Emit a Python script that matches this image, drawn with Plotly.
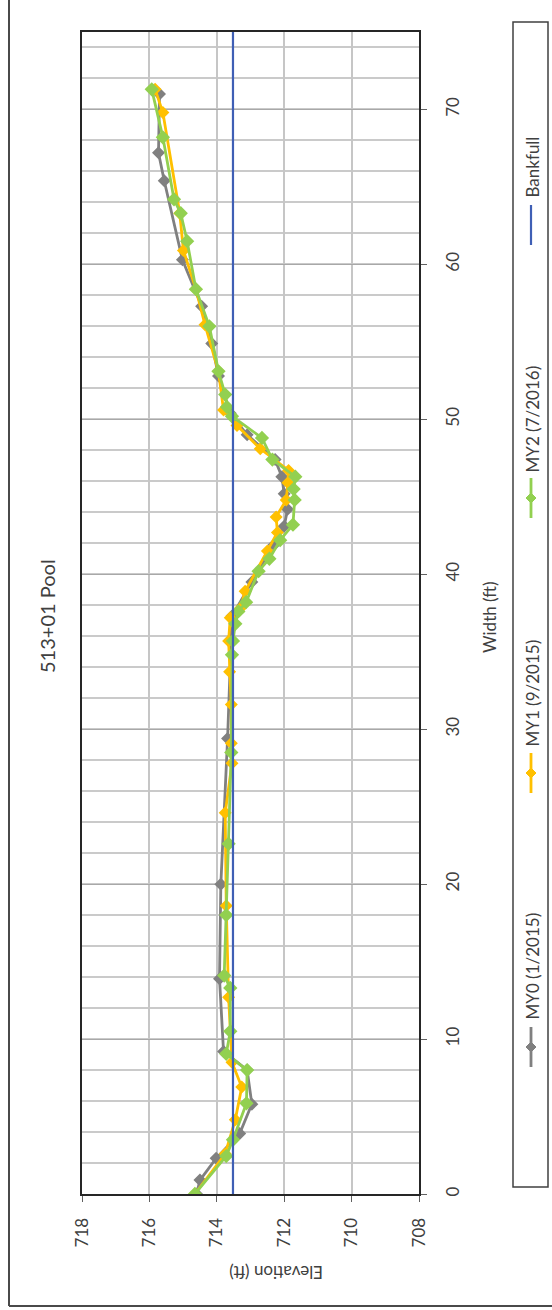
import plotly.graph_objects as go

# Cross-section survey, station 513+01 (pool). Width in ft, elevation in ft.
my0_width = [0.0, 0.9, 2.3, 3.9, 5.8, 8.0, 9.2, 13.9, 20.0, 29.4, 37.3, 39.5, 41.9,
             43.1, 44.2, 45.2, 46.3, 47.4, 49.0, 50.4, 52.8, 54.9, 57.3, 60.3,
             65.4, 67.2, 71.0]
my0_elev = [714.60, 714.50, 714.02, 713.32, 712.96, 713.10, 713.80, 713.92, 713.88,
            713.68, 713.55, 712.96, 712.30, 712.00, 711.90, 712.00, 712.07, 712.27,
            713.10, 713.60, 713.95, 714.15, 714.45, 715.02, 715.56, 715.73, 715.70]

my1_width = [0.0, 2.6, 4.8, 6.9, 8.5, 12.7, 18.6, 24.6, 27.8, 29.1, 31.6, 33.7,
             35.7, 37.2, 37.8, 38.9, 41.5, 42.7, 43.7, 44.8, 45.9, 46.7, 48.1,
             49.6, 50.6, 53.1, 56.1, 58.4, 60.9, 63.3, 69.8, 71.3]
my1_elev = [714.65, 713.75, 713.45, 713.26, 713.55, 713.65, 713.72, 713.75, 713.55,
            713.57, 713.57, 713.62, 713.65, 713.60, 713.30, 713.16, 712.50, 712.20,
            712.24, 711.94, 711.89, 711.87, 712.71, 713.40, 713.80, 713.95, 714.35,
            714.62, 714.99, 715.10, 715.60, 715.83]

my2_width = [0.0, 2.45, 3.5, 5.85, 8.0, 9.05, 10.5, 13.3, 14.1, 18.0, 22.6, 28.5,
             34.8, 35.7, 36.8, 37.6, 38.2, 40.2, 41.0, 42.2, 43.2, 44.8, 45.5,
             46.3, 47.4, 48.8, 50.2, 50.8, 51.6, 53.1, 56.0, 58.4, 61.5, 63.3,
             64.2, 68.2, 71.3]
my2_elev = [714.65, 713.72, 713.52, 713.12, 713.10, 713.72, 713.60, 713.60, 713.78,
            713.72, 713.65, 713.57, 713.55, 713.52, 713.45, 713.36, 713.13, 712.76,
            712.44, 712.12, 711.74, 711.69, 711.72, 711.67, 712.35, 712.66, 713.55,
            713.70, 713.75, 713.95, 714.22, 714.62, 714.88, 715.07, 715.27, 715.60,
            715.93]

bankfull_width = [0, 75]
bankfull_elev = [713.52, 713.52]

elev_ticks = [708, 710, 712, 714, 716, 718]
width_ticks = [0, 10, 20, 30, 40, 50, 60, 70]

series_names = ["MY0 (1/2015)", "MY1 (9/2015)", "MY2 (7/2016)", "Bankfull"]
series_colors = ["#808080", "#FFC000", "#92D050", "#3F5FB5"]

FONT = "Lato"
TEXT = "#404040"

# page and plot-area geometry (pixels)
W, H = 552, 1310
L, R, T, B = 82, 419, 32, 1194
PW, PH = R - L, B - T


def px2x(px):
    return (px - L) / PW


def py2y(py):
    return (B - py) / PH


fig = go.Figure()

# The cross-section is drawn turned a quarter turn: elevation runs across,
# width runs up the page.
for name, wid, elev, color, msize in [
    (series_names[0], my0_width, my0_elev, series_colors[0], 10),
    (series_names[1], my1_width, my1_elev, series_colors[1], 10),
    (series_names[2], my2_width, my2_elev, series_colors[2], 11),
]:
    fig.add_trace(go.Scatter(
        x=elev, y=wid, name=name, mode="lines+markers",
        line=dict(color=color, width=2.8),
        marker=dict(symbol="diamond", size=msize, color=color),
        showlegend=False,
    ))

fig.add_trace(go.Scatter(
    x=bankfull_elev, y=bankfull_width, name=series_names[3], mode="lines",
    line=dict(color=series_colors[3], width=2.2), showlegend=False,
))

fig.update_layout(
    width=W, height=H,
    margin=dict(l=L, r=W - R, t=T, b=H - B, autoexpand=False),
    plot_bgcolor="white", paper_bgcolor="white",
    font=dict(family=FONT, color=TEXT, size=17),
    xaxis=dict(
        range=[718, 708], tickvals=elev_ticks, tickangle=-90,
        ticks="outside", ticklen=6, tickcolor="#606060",
        showgrid=True, gridcolor="#c6c6c6", gridwidth=1.5,
        showline=True, mirror=True, linecolor="#262626", linewidth=2,
        zeroline=False, tickfont=dict(size=17, color=TEXT),
        ticklabelstandoff=9,
    ),
    yaxis=dict(
        range=[0, 75], tickvals=width_ticks, side="right", tickangle=-90,
        ticks="outside", ticklen=6, tickcolor="#606060",
        showgrid=True, gridcolor="#a8a8a8", gridwidth=1,
        minor=dict(dtick=2, tick0=0, showgrid=True, gridcolor="#cacaca",
                   gridwidth=1.5),
        showline=True, mirror=True, linecolor="#262626", linewidth=2,
        zeroline=False, tickfont=dict(size=17, color=TEXT),
        ticklabelstandoff=12,
    ),
)

annotations = [
    dict(text="513+01 Pool", x=px2x(47), y=py2y(616), textangle=-90,
         font=dict(size=20, color=TEXT)),
    dict(text="Width (ft)", x=px2x(490), y=py2y(617), textangle=-90,
         font=dict(size=17, color=TEXT)),
    dict(text="Elevation (ft)", x=px2x(276), y=py2y(1273), textangle=180,
         font=dict(size=17, color=TEXT)),
]
for a in annotations:
    a.update(xref="paper", yref="paper", showarrow=False,
             xanchor="center", yanchor="middle")

shapes = [
    # chart frame (left and bottom edges)
    dict(type="line", xref="paper", yref="paper",
         x0=px2x(9), x1=px2x(9), y0=py2y(-5), y1=py2y(1306),
         line=dict(color="#4a4a4a", width=2)),
    dict(type="line", xref="paper", yref="paper",
         x0=px2x(9), x1=px2x(560), y0=py2y(1306), y1=py2y(1306),
         line=dict(color="#4a4a4a", width=2)),
    # legend box
    dict(type="rect", xref="paper", yref="paper",
         x0=px2x(513), x1=px2x(548), y0=py2y(1187), y1=py2y(22),
         line=dict(color="#404040", width=1.5), fillcolor="white"),
]

# legend entries, laid out down the page
LEG_X = 531
legend_items = [  # (line start, line end, text start) in page y pixels
    (1067, 1027, 1022),
    (793, 753, 749),
    (518, 478, 475),
    (245, 205, 200),
]
for i, (y0, y1, ytxt) in enumerate(legend_items):
    color = series_colors[i]
    shapes.append(dict(type="line", xref="paper", yref="paper",
                       x0=px2x(LEG_X), x1=px2x(LEG_X),
                       y0=py2y(y0), y1=py2y(y1),
                       line=dict(color=color, width=2.8 if i < 3 else 2.2)))
    if i < 3:
        shapes.append(dict(type="path", xref="paper", yref="paper",
                           xsizemode="pixel", ysizemode="pixel",
                           xanchor=px2x(LEG_X), yanchor=py2y((y0 + y1) / 2),
                           path="M0,-5 L5,0 L0,5 L-5,0 Z",
                           fillcolor=color, line=dict(color=color, width=1)))
    annotations.append(dict(text=series_names[i], xref="paper", yref="paper",
                            x=px2x(LEG_X + 1), y=py2y(ytxt), textangle=-90,
                            xanchor="center", yanchor="bottom", showarrow=False,
                            font=dict(size=17, color=TEXT)))

fig.update_layout(annotations=annotations, shapes=shapes)

fig.write_html("out.html")
